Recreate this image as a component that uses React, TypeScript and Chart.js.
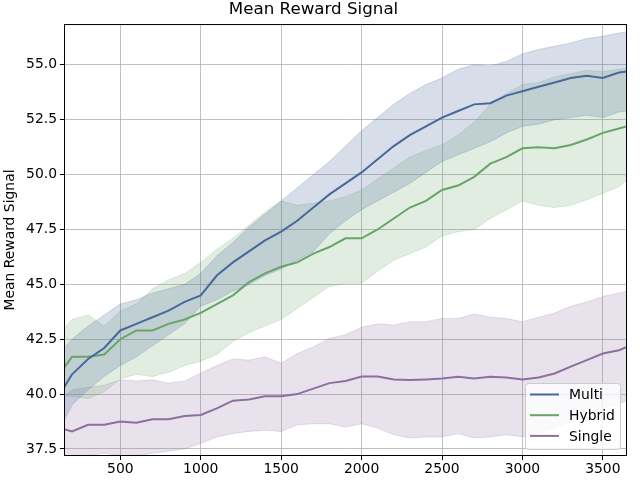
import { useEffect, useRef } from "react"
import { Chart, registerables } from "chart.js"

Chart.register(...registerables)

// training steps (x)
const steps = [
  150, 200, 300, 400, 500, 600, 700, 800, 900, 1000, 1100, 1200, 1300, 1400, 1500, 1600, 1700, 1800,
  1900, 2000, 2100, 2200, 2300, 2400, 2500, 2600, 2700, 2800, 2900, 3000, 3100, 3200, 3300, 3400,
  3500, 3600, 3650,
]

const multiMean = [
  40.3, 40.9, 41.6, 42.1, 42.9, 43.2, 43.5, 43.8, 44.2, 44.5, 45.4, 46.0, 46.5, 47.0, 47.4, 47.9, 48.5,
  49.1, 49.6, 50.1, 50.7, 51.3, 51.8, 52.2, 52.6, 52.9, 53.2, 53.25, 53.6, 53.8, 54.0, 54.2, 54.4,
  54.5, 54.4, 54.65, 54.7,
]
const multiUpper = [
  42.1, 42.5, 43.1, 43.6, 44.1, 44.3, 44.6, 44.8, 45.0, 45.5, 46.3, 46.9, 47.6, 48.2, 48.8, 49.4, 50.0,
  50.6, 51.3, 52.0, 52.6, 53.2, 53.7, 54.1, 54.4, 54.8, 55.0, 54.95, 55.15, 55.5, 55.7, 55.85, 56.0,
  56.2, 56.3, 56.45, 56.5,
]
const multiLower = [
  38.8, 39.5, 40.2, 40.8, 41.3, 41.7, 42.2, 42.7, 43.2, 44.0, 44.3, 44.7, 45.0, 45.4, 45.7, 46.1, 46.5,
  47.3, 47.9, 48.4, 48.8, 49.2, 49.6, 50.1, 50.6, 50.9, 51.2, 51.5, 51.9, 52.2, 52.3, 52.5, 52.6,
  52.7, 52.6, 52.85, 52.9,
]

const hybridMean = [
  41.2, 41.7, 41.7, 41.8, 42.5, 42.9, 42.9, 43.2, 43.4, 43.7, 44.1, 44.5, 45.1, 45.5, 45.8, 46.0, 46.4,
  46.7, 47.1, 47.1, 47.5, 48.0, 48.5, 48.8, 49.3, 49.5, 49.9, 50.5, 50.8, 51.2, 51.25, 51.2, 51.35,
  51.6, 51.9, 52.1, 52.2,
]
const hybridUpper = [
  43.0, 43.4, 43.6, 43.1, 43.8, 44.1, 44.8, 45.2, 45.5, 46.0, 46.6, 47.1, 47.7, 48.3, 48.8, 48.6, 48.7,
  48.8, 49.0, 49.3, 49.8, 50.3, 50.8, 51.1, 51.35, 51.8, 52.4, 53.2, 53.7, 54.1, 54.2, 54.45, 54.6,
  54.75, 54.7, 54.8, 54.85,
]
const hybridLower = [
  39.9, 39.9, 39.8, 40.1, 40.7, 40.9, 40.8, 41.0, 41.3, 41.5, 41.8, 42.4, 42.8, 43.1, 43.4, 43.9, 44.4,
  44.9, 45.05, 45.05, 45.6, 46.1, 46.4, 46.7, 47.2, 47.4, 47.5, 48.0, 48.4, 48.8, 48.6, 48.5, 48.6,
  48.85, 49.15, 49.45, 49.75,
]

const singleMean = [
  38.4, 38.3, 38.6, 38.6, 38.75, 38.7, 38.85, 38.85, 39.0, 39.05, 39.35, 39.7, 39.75, 39.9, 39.9, 40.0,
  40.25, 40.5, 40.6, 40.8, 40.8, 40.67, 40.64, 40.67, 40.71, 40.79, 40.71, 40.79, 40.76, 40.67, 40.76,
  40.94, 41.25, 41.55, 41.85, 42.0, 42.15,
]
const singleUpper = [
  39.9, 40.2, 40.3, 40.4, 40.65, 40.6, 40.65, 40.5, 40.6, 40.95, 41.3, 41.6, 41.55, 41.7, 41.4, 41.85,
  42.15, 42.55, 42.7, 43.05, 43.2, 43.15, 43.3, 43.3, 43.45, 43.45, 43.65, 43.5, 43.45, 43.3, 43.5,
  43.7, 44.0, 44.2, 44.45, 44.6, 44.7,
]
const singleLower = [
  36.8, 37.0, 37.2, 37.3, 37.2, 37.2, 37.3, 37.4, 37.5, 37.75, 38.05, 38.2, 38.3, 38.35, 38.3, 38.6,
  38.65, 38.65, 38.5, 38.65, 38.45, 38.15, 38.0, 38.05, 38.05, 38.2, 38.0, 38.05, 38.15, 38.05, 38.2,
  38.45, 38.75, 39.1, 39.4, 39.55, 39.7,
]

const seriesNames = ["Multi", "Hybrid", "Single"]
const lineColors = ["#4a6799", "#68a468", "#8d6f9e"]
const bandColors = ["rgba(74,103,153,0.22)", "rgba(104,164,104,0.2)", "rgba(141,111,158,0.2)"]

const xTicks = [500, 1000, 1500, 2000, 2500, 3000, 3500]
const yTicks = [37.5, 40, 42.5, 45, 47.5, 50, 52.5, 55]

const FONT = "'DejaVu Sans', sans-serif"

const toPoints = (values: number[]) => values.map((y, i) => ({ x: steps[i], y }))

// axes frame + matplotlib-style legend in the lower right corner
const framePlugin = {
  id: "frameAndLegend",
  afterDraw(chart: Chart) {
    const { ctx, chartArea } = chart
    ctx.save()
    ctx.strokeStyle = "#000"
    ctx.lineWidth = 1
    ctx.strokeRect(chartArea.left + 0.5, chartArea.top + 0.5, chartArea.right - chartArea.left - 1, chartArea.bottom - chartArea.top - 1)

    const w = 95
    const h = 66
    const x0 = chartArea.right - 7 - w
    const y0 = chartArea.bottom - 7 - h
    ctx.beginPath()
    ctx.roundRect(x0 + 0.5, y0 + 0.5, w, h, 3)
    ctx.fillStyle = "rgba(255,255,255,0.8)"
    ctx.fill()
    ctx.strokeStyle = "#cccccc"
    ctx.stroke()

    ctx.font = `13.9px ${FONT}`
    ctx.textBaseline = "middle"
    ctx.textAlign = "left"
    seriesNames.forEach((name, i) => {
      const y = y0 + 11.5 + i * 20.7
      ctx.beginPath()
      ctx.moveTo(x0 + 5, y)
      ctx.lineTo(x0 + 34, y)
      ctx.strokeStyle = lineColors[i]
      ctx.lineWidth = 2
      ctx.stroke()
      ctx.fillStyle = "#000"
      ctx.fillText(name, x0 + 44, y + 1)
    })
    ctx.restore()
  },
}

export default function App() {
  const chartRef = useRef<HTMLCanvasElement>(null)

  useEffect(() => {
    if (!chartRef.current) return
    document.body.style.margin = "0"

    const means = [multiMean, hybridMean, singleMean]
    const uppers = [multiUpper, hybridUpper, singleUpper]
    const lowers = [multiLower, hybridLower, singleLower]

    const datasets: any[] = []
    seriesNames.forEach((name, i) => {
      datasets.push({
        label: name + " upper",
        data: toPoints(uppers[i]),
        borderColor: bandColors[i],
        backgroundColor: bandColors[i],
        borderWidth: 1,
        pointRadius: 0,
        fill: "+1",
        order: 1,
        clip: 0,
      })
      datasets.push({
        label: name + " lower",
        data: toPoints(lowers[i]),
        borderColor: bandColors[i],
        borderWidth: 1,
        pointRadius: 0,
        fill: false,
        order: 1,
        clip: 0,
      })
    })
    seriesNames.forEach((name, i) => {
      datasets.push({
        label: name,
        data: toPoints(means[i]),
        borderColor: lineColors[i],
        borderWidth: 2,
        pointRadius: 0,
        fill: false,
        order: 0,
        clip: 0,
      })
    })

    const chart = new Chart(chartRef.current, {
      type: "line",
      data: { datasets },
      options: {
        animation: false,
        responsive: true,
        maintainAspectRatio: false,
        events: [],
        layout: { padding: { left: 0, right: 13, top: 0, bottom: 0 } },
        font: { family: FONT },
        plugins: {
          legend: { display: false },
          tooltip: { enabled: false },
          title: {
            display: true,
            text: "Mean Reward Signal",
            color: "#000",
            font: { family: FONT, size: 16.7, weight: "normal" },
            padding: { top: 0, bottom: 4 },
          },
        },
        scales: {
          x: {
            type: "linear",
            min: 150,
            max: 3650,
            afterBuildTicks: (scale: any) => {
              scale.ticks = xTicks.map((v) => ({ value: v }))
            },
            afterFit: (scale: any) => {
              scale.height = 24
            },
            ticks: {
              autoSkip: false,
              maxRotation: 0,
              padding: 1,
              color: "#000",
              font: { family: FONT, size: 13.9 },
              callback: (v: any) => String(v),
            },
            grid: { color: "#b0b0b0", lineWidth: 0.8, tickColor: "#000", tickLength: 4, tickWidth: 1 },
            border: { display: false },
          },
          y: {
            type: "linear",
            min: 37.18,
            max: 56.86,
            afterBuildTicks: (scale: any) => {
              scale.ticks = yTicks.map((v) => ({ value: v }))
            },
            afterFit: (scale: any) => {
              scale.width = 64
            },
            ticks: {
              padding: 3,
              color: "#000",
              font: { family: FONT, size: 13.9 },
              callback: (v: any) => Number(v).toFixed(1),
            },
            grid: { color: "#b0b0b0", lineWidth: 0.8, tickColor: "#000", tickLength: 4, tickWidth: 1 },
            border: { display: false },
            title: {
              display: true,
              text: "Mean Reward Signal",
              color: "#000",
              font: { family: FONT, size: 13.9 },
              padding: { top: 2, bottom: 0 },
            },
          },
        },
      } as any,
      plugins: [framePlugin],
    })

    return () => {
      chart.destroy()
    }
  }, [])

  return (
    <div style={{ width: 640, height: 480, position: "relative" }}>
      <canvas ref={chartRef} />
    </div>
  )
}
